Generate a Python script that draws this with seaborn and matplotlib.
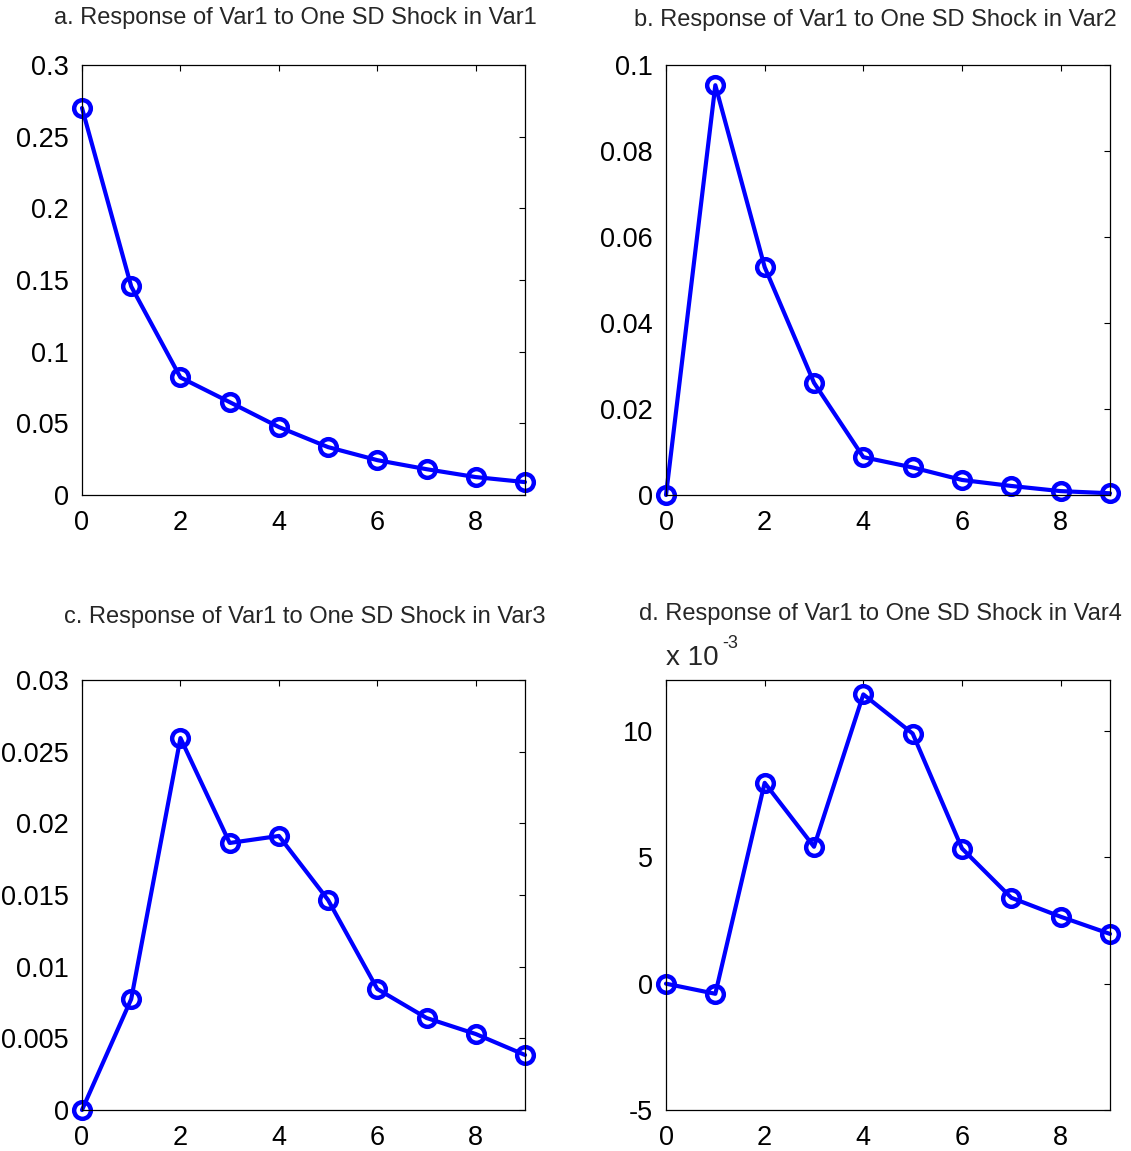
import matplotlib
matplotlib.use("Agg")
import matplotlib.pyplot as plt
import seaborn as sns

sns.set_theme(style="white")
plt.rcParams['font.family'] = ['Liberation Sans', 'DejaVu Sans']

horizon = list(range(10))

titles = [
    "a. Response of Var1 to One SD Shock in Var1",
    "b. Response of Var1 to One SD Shock in Var2",
    "c. Response of Var1 to One SD Shock in Var3",
    "d. Response of Var1 to One SD Shock in Var4",
]

resp_var1 = [0.270, 0.1455, 0.0820, 0.0648, 0.0474, 0.0334, 0.0243, 0.0180, 0.0125, 0.0090]
resp_var2 = [0.0, 0.0953, 0.0530, 0.0261, 0.0088, 0.0064, 0.0035, 0.0021, 0.0009, 0.0004]
resp_var3 = [0.0, 0.00774, 0.02595, 0.01863, 0.01912, 0.01465, 0.00844, 0.00642, 0.0053, 0.00384]
# panel d values in units of 1e-3
resp_var4_e3 = [0.0, -0.4, 7.95, 5.42, 11.45, 9.90, 5.35, 3.40, 2.65, 1.97]

x_ticks = [0, 2, 4, 6, 8]
x_ticklabels = ["0", "2", "4", "6", "8"]

y_ticks_a = [0, 0.05, 0.1, 0.15, 0.2, 0.25, 0.3]
y_labels_a = ["0", "0.05", "0.1", "0.15", "0.2", "0.25", "0.3"]
y_ticks_b = [0, 0.02, 0.04, 0.06, 0.08, 0.1]
y_labels_b = ["0", "0.02", "0.04", "0.06", "0.08", "0.1"]
y_ticks_c = [0, 0.005, 0.01, 0.015, 0.02, 0.025, 0.03]
y_labels_c = ["0", "0.005", "0.01", "0.015", "0.02", "0.025", "0.03"]
y_ticks_d = [-5, 0, 5, 10]
y_labels_d = ["-5", "0", "5", "10"]

W, H = 1131, 1151
fig = plt.figure(figsize=(W / 100, H / 100), dpi=100)

def ax_at(l, t, r, b):
    return fig.add_axes([l / W, 1 - b / H, (r - l) / W, (b - t) / H])

# (axes, values, ylim, yticks, ylabels, title, title centre px x, title centre px y)
panels = [
    (ax_at(82, 65, 525, 495), resp_var1, (0, 0.3), y_ticks_a, y_labels_a, titles[0], 295, 18),
    (ax_at(666, 65, 1110, 495), resp_var2, (0, 0.1), y_ticks_b, y_labels_b, titles[1], 875, 20),
    (ax_at(82, 680, 525, 1110), resp_var3, (0, 0.03), y_ticks_c, y_labels_c, titles[2], 305, 617),
    (ax_at(666, 680, 1110, 1110), resp_var4_e3, (-5, 12.02), y_ticks_d, y_labels_d, titles[3], 880, 614),
]

for ax, vals, ylim, yt, yl, title, tx, ty in panels:
    sns.lineplot(x=horizon, y=vals, ax=ax, color=(0, 0, 1), linewidth=3.0,
                 marker='o', markersize=12, markerfacecolor='none',
                 markeredgecolor=(0, 0, 1), markeredgewidth=3.2, clip_on=False)
    ax.set_xlim(0, 9)
    ax.set_ylim(*ylim)
    ax.set_xticks(x_ticks)
    ax.set_xticklabels(x_ticklabels)
    ax.set_yticks(yt)
    ax.set_yticklabels(yl)
    ax.tick_params(direction='in', top=True, right=True, length=4, width=0.8,
                   labelsize=19.5, colors='black', pad=9.5)
    ax.tick_params(axis='x', pad=11)
    for s in ax.spines.values():
        s.set_color('black')
        s.set_linewidth(0.9)
    fig.text(tx / W, 1 - ty / H, title, fontsize=17, ha='center', va='center')
    ax.set_xlabel("")
    ax.set_ylabel("")
    ax.grid(False)

fig.text(666 / W, 1 - 658 / H, "x 10", fontsize=20, ha='left', va='center')
fig.text(722 / W, 1 - 643 / H, "-3", fontsize=13, ha='left', va='center')

fig.savefig("out.png", dpi=100, facecolor='white')
